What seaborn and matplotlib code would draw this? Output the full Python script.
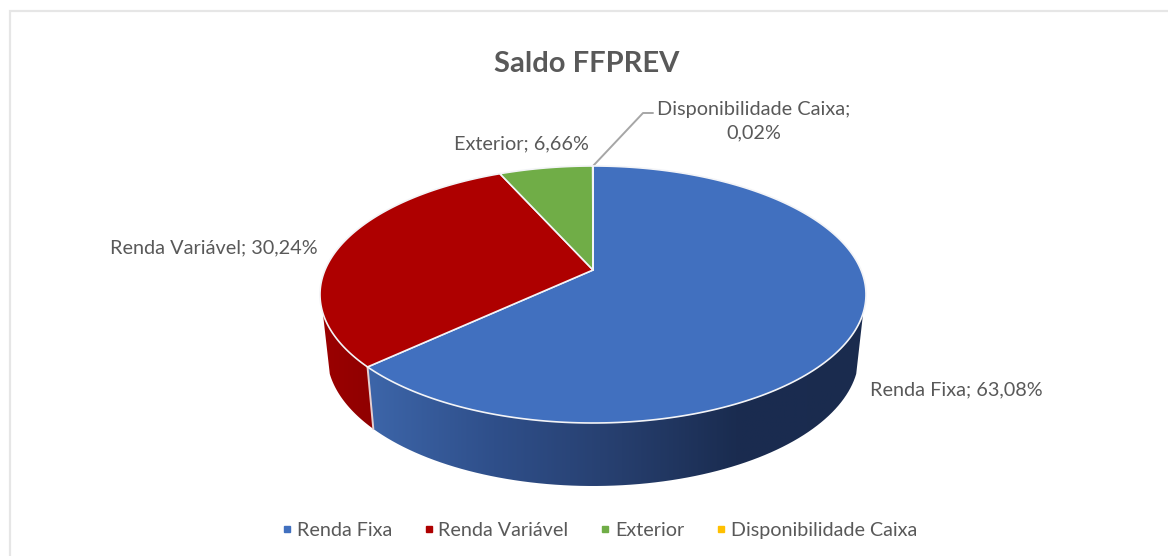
import numpy as np
import matplotlib
matplotlib.use('Agg')
import matplotlib.pyplot as plt
from matplotlib.colors import LinearSegmentedColormap
from matplotlib.lines import Line2D
from matplotlib.patches import Polygon
import seaborn as sns

# data
categories = ['Renda Fixa', 'Renda Variável', 'Exterior', 'Disponibilidade Caixa']
shares = [63.08, 30.24, 6.66, 0.02]
share_labels = ['63,08%', '30,24%', '6,66%', '0,02%']
title = 'Saldo FFPREV'

sns.set_theme(style='white')
plt.rcParams['font.family'] = ['Lato', 'DejaVu Sans']
palette = sns.color_palette(['#4170bf', '#ae0000', '#70ad47', '#ffc000'])
text_color = '#595959'
edge_color = '#f3f4f7'


# circle seen in perspective, angle clockwise from 12 o'clock
def project(theta, cy, rx, ry, k, cx=593.0):
    t = np.radians(theta)
    u, v = np.sin(t), np.cos(t)
    w = 1 + k * v
    x = cx + rx * np.sqrt(1 - k ** 2) * u / w
    y = cy - (ry * v + k * ry) / w
    return np.column_stack([x, y])


def top(theta):
    return project(theta, 294.5, 273, 128.5, 0.19)


def bottom(theta):
    return project(theta, 355, 266, 131, 0.19)


fig = plt.figure(figsize=(11.68, 5.56), dpi=100)
ax = fig.add_axes([0, 0, 1, 1])

# outer frame of the chart
ax.plot([9.5, 9.5, 1168], [556, 10.5, 10.5], color='#e6e6e6', lw=1.6, solid_joinstyle='miter')

ends = np.cumsum(shares) * 3.6
starts = np.r_[0, ends[:-1]]

# side walls with gradient
blue_wall = [(0.0, '#3d66aa'), (0.25, '#2f4f8a'), (0.5, '#263e6d'), (0.72, '#1a2c50'), (1.0, '#1a2b4e')]
red_wall = [(0.0, '#9c0000'), (1.0, '#8e0000')]
wall_ranges = [(109, ends[0], blue_wall, (365, 880)),
               (ends[0], 251, red_wall, (315, 382))]
for a, b, cols, (x0, x1) in wall_ranges:
    angles = np.linspace(a, b, 80)
    outline = np.vstack([top(angles), bottom(angles)[::-1]])
    clip = Polygon(outline, closed=True, transform=ax.transData, facecolor='none', edgecolor='none')
    ax.add_patch(clip)
    cmap = LinearSegmentedColormap.from_list('wall', cols)
    img = ax.imshow(np.linspace(0, 1, 256)[None, :], cmap=cmap, extent=(x0, x1, 500, 290),
                    aspect='auto', zorder=2)
    img.set_clip_path(clip)

# edge between the two walls
ax.plot(*np.vstack([top(ends[0]), bottom(ends[0])]).T, color='#e6cfcf', lw=1.4, zorder=3)

# top face
apex = np.array([593.0, 270.0])
for s, e, col in zip(starts, ends, palette):
    arc = top(np.linspace(s, e, 200))
    ax.add_patch(Polygon(np.vstack([apex, arc]), closed=True, facecolor=col,
                         edgecolor=edge_color, lw=1.2, zorder=4, joinstyle='round'))

# data labels
label_font = dict(color=text_color, fontsize=14.3)
ax.text(870, 390, f'{categories[0]}; {share_labels[0]}', va='center', ha='left', **label_font)
ax.text(110, 248, f'{categories[1]}; {share_labels[1]}', va='center', ha='left', **label_font)
ax.text(454, 144, f'{categories[2]}; {share_labels[2]}', va='center', ha='left', **label_font)
ax.text(754, 121, f'{categories[3]};\n{share_labels[3]}', va='center', ha='center',
        linespacing=1.5, **label_font)
ax.plot([593, 643, 653], [166, 113, 113], color='#a6a6a6', lw=1.4, zorder=3)

ax.text(587, 64, title, ha='center', va='center', color=text_color, fontsize=21, fontweight='bold')

handles = [Line2D([], [], ls='none', marker='s', ms=5, color=c) for c in palette]
ax.legend(handles, categories, ncol=4, frameon=False, loc='center', bbox_to_anchor=(597, 530.5),
          bbox_transform=ax.transData, fontsize=14.2, labelcolor=text_color, handletextpad=0.0,
          columnspacing=1.35, handlelength=1.0, borderpad=0)

ax.set_xlim(0, 1168)
ax.set_ylim(556, 0)
ax.axis('off')
fig.savefig('out.png', dpi=100, facecolor='white')
